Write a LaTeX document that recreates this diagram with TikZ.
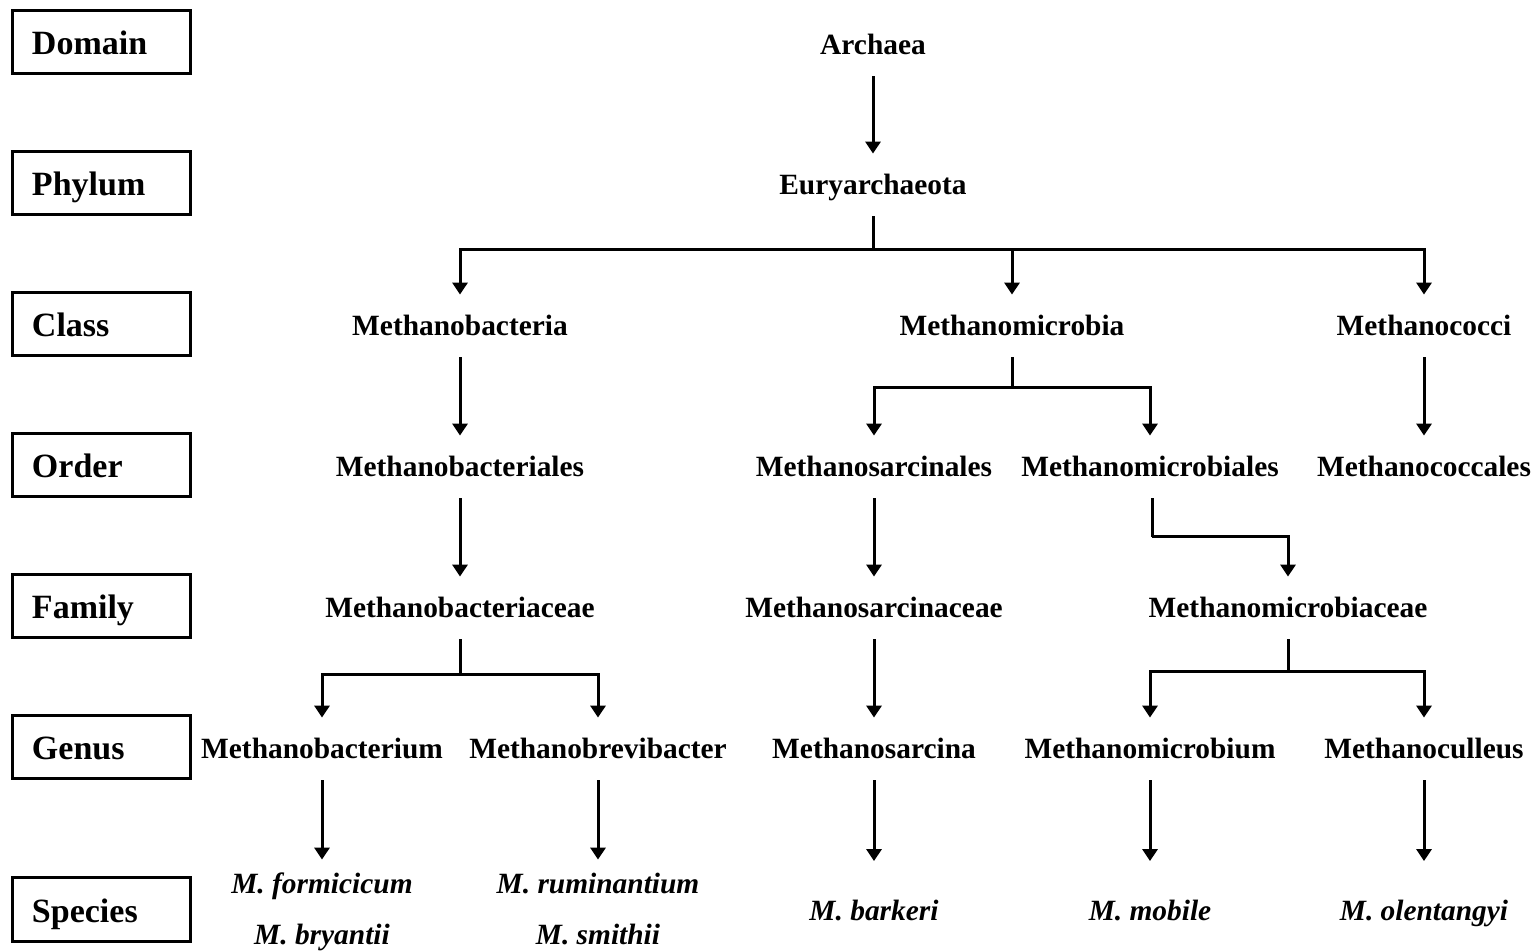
\documentclass[tikz,border=0pt]{standalone}
\usepackage{fontspec}
\setmainfont{Liberation Serif}
\usetikzlibrary{arrows.meta}

\tikzset{
  taxon/.style={font=\fontsize{14.7}{17}\selectfont\bfseries, inner sep=0pt,
    text height=11pt, text depth=1.5pt, minimum height=31pt},
  species/.style={font=\fontsize{14.7}{25.5}\selectfont\bfseries\itshape, inner xsep=0pt,
    inner ysep=-1.25pt, align=center},
  onespecies/.style={species, inner ysep=0pt, minimum height=50pt, text height=11pt, text depth=1.5pt},
  rankbox/.style={draw, line width=1.5pt, font=\fontsize{17}{20}\selectfont\bfseries,
    minimum width=89pt, minimum height=31.5pt, inner xsep=10pt, inner ysep=0pt,
    text width=69pt, align=left, text height=14pt, text depth=1.5pt},
  link/.style={line width=1.5pt},
  arr/.style={line width=1.5pt, -{Triangle[width=7.5pt,length=6pt]}}
}

\begin{document}
\begin{tikzpicture}[x=0.5pt,y=-0.5pt]
\useasboundingbox (0,0) rectangle (1538,951);
%Ranks
\foreach \rk/\nm/\yy in {dom/Domain/42.5, phy/Phylum/183.5, cls/Class/324.5,
    ord/Order/465.5, fam/Family/606.5, gen/Genus/747.5, spc/Species/909.5}
  \node[rankbox] (\rk) at (101,\yy) {\nm};
%Taxa
\node[taxon] (arch) at (873,45) {Archaea};
\node[taxon] (eury) at (873,185) {Euryarchaeota};
\node[taxon] (mbac) at (460,326) {Methanobacteria};
\node[taxon] (mmic) at (1012,326) {Methanomicrobia};
\node[taxon] (mcoc) at (1424,326) {Methanococci};
\node[taxon] (mbacl) at (460,467) {Methanobacteriales};
\node[taxon] (msarl) at (874,467) {Methanosarcinales};
\node[taxon] (mmicl) at (1150,467) {Methanomicrobiales};
\node[taxon] (mcocl) at (1424,467) {Methanococcales};
\node[taxon] (mbacf) at (460,608) {Methanobacteriaceae};
\node[taxon] (msarf) at (874,608) {Methanosarcinaceae};
\node[taxon] (mmicf) at (1288,608) {Methanomicrobiaceae};
\node[taxon] (mbacg) at (322,749) {Methanobacterium};
\node[taxon] (mbrvg) at (598,749) {Methanobrevibacter};
\node[taxon] (msarg) at (874,749) {Methanosarcina};
\node[taxon] (mmicg) at (1150,749) {Methanomicrobium};
\node[taxon] (mculg) at (1424,749) {Methanoculleus};
\node[species] (sp1) at (322,908.5) {\strut M. formicicum\\\strut M. bryantii};
\node[species] (sp2) at (598,908.5) {\strut M. ruminantium\\\strut M. smithii};
\node[onespecies] (sp3) at (874,911.5) {M. barkeri};
\node[onespecies] (sp4) at (1150,911.5) {M. mobile};
\node[onespecies] (sp5) at (1424,911.5) {M. olentangyi};
%Branch points
\coordinate (b1) at (873,250);
\coordinate (b2) at (1012,388);
\coordinate (b3) at (1152,537);
\coordinate (b4) at (460,675);
\coordinate (b5) at (1288,672);
%Connectors
\draw[arr] (arch.south) -- (eury.north);
\draw[link] (eury.south) -- (b1);
\draw[arr] (b1) -| (mbac.north);
\draw[arr] (b1) -| (mmic.north);
\draw[arr] (b1) -| (mcoc.north);
\draw[arr] (mbac.south) -- (mbacl.north);
\draw[link] (mmic.south) -- (b2);
\draw[arr] (b2) -| (msarl.north);
\draw[arr] (b2) -| (mmicl.north);
\draw[arr] (mcoc.south) -- (mcocl.north);
\draw[arr] (mbacl.south) -- (mbacf.north);
\draw[arr] (msarl.south) -- (msarf.north);
\draw[link] ([xshift=1pt]mmicl.south) -- (b3);
\draw[arr] (b3) -| (mmicf.north);
\draw[link] (mbacf.south) -- (b4);
\draw[arr] (b4) -| (mbacg.north);
\draw[arr] (b4) -| (mbrvg.north);
\draw[arr] (msarf.south) -- (msarg.north);
\draw[link] (mmicf.south) -- (b5);
\draw[arr] (b5) -| (mmicg.north);
\draw[arr] (b5) -| (mculg.north);
\draw[arr] (mbacg.south) -- (sp1.north);
\draw[arr] (mbrvg.south) -- (sp2.north);
\draw[arr] (msarg.south) -- (sp3.north);
\draw[arr] (mmicg.south) -- (sp4.north);
\draw[arr] (mculg.south) -- (sp5.north);
\end{tikzpicture}
\end{document}
